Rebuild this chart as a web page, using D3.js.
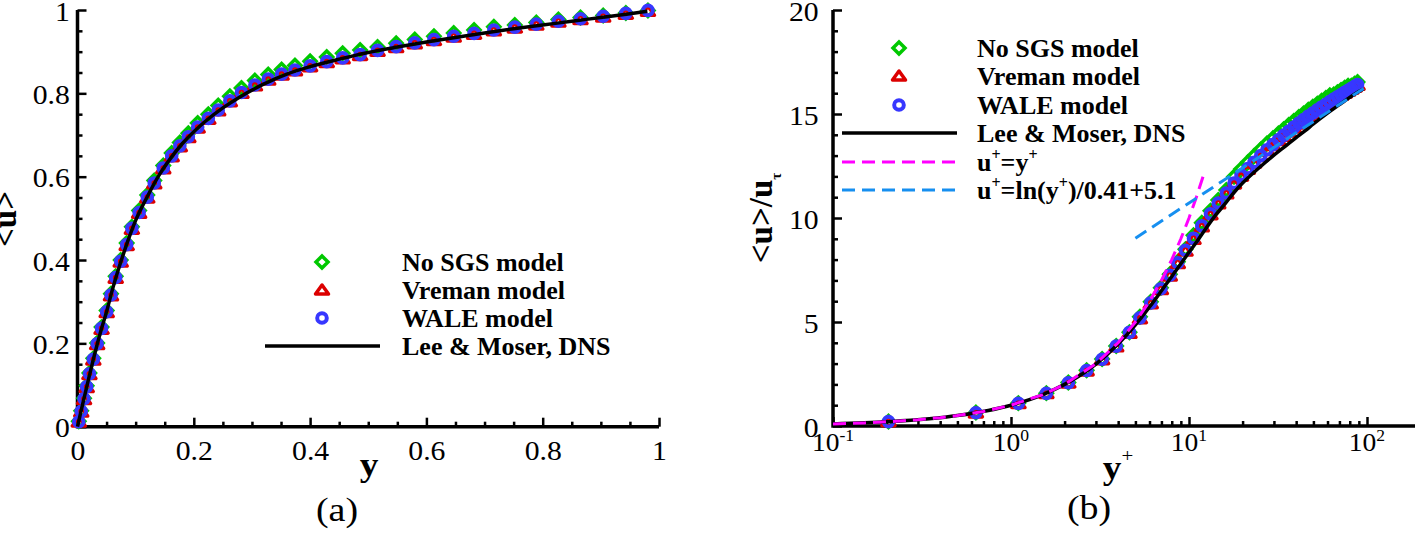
<!DOCTYPE html>
<html><head><meta charset="utf-8">
<script src="https://cdn.jsdelivr.net/npm/d3@7"></script>
<style>
body{margin:0;background:#fff}
svg{display:block}
text{font-family:"Liberation Serif","Times New Roman",Times,serif;fill:#000}
</style>
</head><body>
<svg id="c" width="1415" height="535"></svg>
<script>
// ---------------- DATA ----------------
// Panel (a): y/h vs <u>/Uc
const gridY = [0.0022,0.0064,0.0112,0.0158,0.0205,0.0272,0.0338,0.0414,0.0502,0.0576,0.0657,0.0743,0.0846,0.0935,0.106,0.120,0.132,0.1475,0.162,0.176,0.1906,0.2067,0.225,0.242,0.262,0.282,0.305,0.328,0.351,0.374,0.400,0.4286,0.456,0.486,0.516,0.548,0.580,0.613,0.647,0.682,0.716,0.752,0.789,0.827,0.865,0.904,0.943,0.981];
const noSgsU = [0.013,0.038,0.068,0.098,0.129,0.164,0.201,0.239,0.279,0.319,0.361,0.400,0.441,0.480,0.519,0.556,0.591,0.627,0.657,0.682,0.704,0.729,0.750,0.771,0.793,0.813,0.831,0.845,0.857,0.867,0.877,0.887,0.896,0.904,0.911,0.920,0.929,0.937,0.945,0.952,0.960,0.964,0.970,0.977,0.982,0.987,0.993,0.999];
const vremanU = [0.011,0.035,0.065,0.094,0.125,0.160,0.197,0.234,0.274,0.314,0.356,0.395,0.435,0.474,0.512,0.549,0.583,0.619,0.648,0.672,0.694,0.717,0.738,0.758,0.780,0.800,0.818,0.832,0.844,0.854,0.864,0.874,0.883,0.891,0.901,0.910,0.919,0.927,0.935,0.942,0.950,0.957,0.964,0.971,0.977,0.983,0.990,0.997];
const waleU = [0.012,0.037,0.067,0.096,0.127,0.162,0.199,0.236,0.276,0.316,0.358,0.397,0.437,0.476,0.514,0.551,0.585,0.621,0.650,0.674,0.696,0.719,0.740,0.760,0.782,0.802,0.820,0.834,0.846,0.856,0.866,0.876,0.885,0.893,0.903,0.912,0.921,0.929,0.937,0.944,0.952,0.959,0.966,0.973,0.979,0.985,0.992,0.999];
const dnsY = [0,0.005,0.01,0.02,0.03,0.04,0.05,0.06,0.07,0.08,0.09,0.10,0.12,0.14,0.16,0.18,0.20,0.22,0.25,0.28,0.32,0.36,0.40,0.45,0.50,0.55,0.60,0.65,0.70,0.75,0.80,0.85,0.90,0.95,0.98];
const dnsU = [0,0.031,0.061,0.12,0.177,0.229,0.276,0.329,0.376,0.419,0.459,0.495,0.552,0.603,0.644,0.679,0.708,0.733,0.765,0.792,0.822,0.846,0.864,0.882,0.898,0.911,0.923,0.934,0.945,0.955,0.964,0.973,0.982,0.991,0.997];

// Panel (b): y+ vs <u>/u_tau
const yPlus = [0.205,0.635,1.10,1.58,2.10,2.66,3.25,3.90,4.63,5.30,6.10,6.95,7.80,8.65,9.55,10.6,11.8,13.2,14.6,16.2,17.9,19.6,21.4,23.2,25.3,27.4,29.6,31.8,34.0,36.3,38.8,41.4,44.0,46.8,49.6,52.6,55.6,58.7,61.8,65.0,68.2,71.5,74.9,78.3,81.7,85.1,88.5];
const noSgsUp = [0.22,0.65,1.10,1.58,2.09,2.68,3.22,3.85,4.51,5.25,5.97,6.65,7.30,7.90,8.50,9.17,9.77,10.35,10.87,11.35,11.98,12.35,12.68,12.98,13.3,13.58,13.83,14.06,14.27,14.47,14.67,14.86,15.03,15.2,15.35,15.5,15.64,15.77,15.9,15.94,16.05,16.16,16.26,16.36,16.36,16.45,16.54];
const vremanUp = [0.21,0.63,1.08,1.56,2.07,2.65,3.19,3.81,4.46,5.16,5.88,6.56,7.21,7.81,8.41,8.98,9.58,10.16,10.68,11.16,11.64,12.01,12.34,12.64,12.96,13.24,13.49,13.72,13.93,14.13,14.33,14.52,14.69,14.86,15.01,15.16,15.3,15.43,15.56,15.68,15.79,15.9,16.0,16.1,16.2,16.29,16.38];
const waleUp = [0.21,0.64,1.09,1.57,2.08,2.67,3.21,3.84,4.50,5.20,5.92,6.60,7.25,7.85,8.45,9.02,9.62,10.2,10.72,11.2,11.68,12.05,12.38,12.68,13.0,13.28,13.53,13.76,13.97,14.17,14.37,14.56,14.73,14.9,15.05,15.2,15.34,15.47,15.6,15.72,15.83,15.94,16.04,16.14,16.24,16.33,16.42];
const dnsYp = [0.1,0.2,0.5,1,1.5,2,2.5,3,4,5,6,7,8,9,10,11,12,14,16,18,20,23,26,30,35,40,45,50,60,70,80,90,95];
const dnsUp = [0.1,0.2,0.5,1.0,1.5,2.0,2.49,2.98,3.94,4.86,5.72,6.5,7.19,7.8,8.35,8.83,9.3,10.1,10.7,11.25,11.68,12.17,12.57,13.02,13.47,13.86,14.2,14.52,15.04,15.45,15.8,16.08,16.2];
const viscY = [0.1,0.15,0.2,0.3,0.4,0.5,0.7,1,1.5,2,3,4,5,6,7,8,9,10,11,12];
const viscU = [0.1,0.15,0.2,0.3,0.4,0.5,0.7,1,1.5,2,3,4,5,6,7,8,9,10,11,12];
const logLawY = [5,100];
const logLawU = [9.03,16.33];

// ticks
const xTicksA = [0,0.2,0.4,0.6,0.8,1];
const xTickLabelsA = ["0","0.2","0.4","0.6","0.8","1"];
const yTicksA = [0,0.2,0.4,0.6,0.8,1];
const yTickLabelsA = ["0","0.2","0.4","0.6","0.8","1"];
const yTicksB = [0,5,10,15,20];
const yTickLabelsB = ["0","5","10","15","20"];
const xTicksB = [0.1,1,10,100];
const xTickExpB = ["-1","0","1","2"];

const seriesNames = ["No SGS model","Vreman model","WALE model","Lee & Moser, DNS"];

// ---------------- STYLE ----------------
const GREEN="#00c800", RED="#dc0000", BLUE="#3737ff", MAGENTA="#ff00ff", LBLUE="#168ff0";
const svg = d3.select("#c");

const xa = d3.scaleLinear().domain([0,1]).range([77.5,659]);
const ya = d3.scaleLinear().domain([0,1]).range([426.7,10]);
const xb = d3.scaleLog().domain([0.1,100]).range([833,1367]);
const yb = d3.scaleLinear().domain([0,20]).range([426,10]);

const diamondPath = "M0,-6L6,0L0,6L-6,0Z";
const trianglePath = "M0,-5L6.5,4L-6.5,4Z";

function markers(g, xs, ys, sx, sy, kind){
  const data = xs.map((x,i)=>[x,ys[i]]);
  if(kind==="circle"){
    g.selectAll(null).data(data).join("circle")
      .attr("cx",d=>sx(d[0])).attr("cy",d=>sy(d[1])).attr("r",4.8)
      .attr("fill","none").attr("stroke",BLUE).attr("stroke-width",4);
  } else {
    g.selectAll(null).data(data).join("path")
      .attr("transform",d=>`translate(${sx(d[0])},${sy(d[1])})`)
      .attr("d", kind==="diamond"?diamondPath:trianglePath)
      .attr("fill","none").attr("stroke",kind==="diamond"?GREEN:RED)
      .attr("stroke-width",3.5).attr("stroke-linejoin",kind==="diamond"?"miter":"round");
  }
}
function legendMarker(g,x,y,kind){
  if(kind==="circle") g.append("circle").attr("cx",x).attr("cy",y).attr("r",4.8).attr("fill","none").attr("stroke",BLUE).attr("stroke-width",4);
  else g.append("path").attr("transform",`translate(${x},${y})`).attr("d",kind==="diamond"?diamondPath:trianglePath)
        .attr("fill","none").attr("stroke",kind==="diamond"?GREEN:RED).attr("stroke-width",3.5).attr("stroke-linejoin",kind==="diamond"?"miter":"round");
}
function styleTicks(g, w){ g.select(".domain").remove(); g.selectAll("line").attr("stroke","#000").attr("stroke-width",w); }

// ---------------- PANEL A ----------------
const A = svg.append("g");
const xMinorA = d3.range(0,1.0001,0.05).filter(v=>Math.abs(v*5-Math.round(v*5))>1e-6);
const yMinorA = xMinorA;
A.append("g").attr("transform",`translate(0,${ya(0)})`)
  .call(d3.axisBottom(xa).tickValues(xMinorA).tickSizeInner(-5).tickSizeOuter(0).tickFormat(""))
  .call(g=>styleTicks(g,2.5));
A.append("g").attr("transform",`translate(0,${ya(0)})`)
  .call(d3.axisBottom(xa).tickValues(xTicksA).tickSizeInner(-9).tickSizeOuter(0).tickPadding(14).tickFormat((d,i)=>xTickLabelsA[i]))
  .call(g=>styleTicks(g,2.5))
  .call(g=>g.selectAll("text").attr("font-size",27).attr("transform","scale(1.1,1)").attr("dy","0.71em"));
A.append("g").attr("transform",`translate(${xa(0)},0)`)
  .call(d3.axisLeft(ya).tickValues(yMinorA).tickSizeInner(-5).tickSizeOuter(0).tickFormat(""))
  .call(g=>styleTicks(g,2.5));
A.append("g").attr("transform",`translate(${xa(0)},0)`)
  .call(d3.axisLeft(ya).tickValues(yTicksA).tickSizeInner(-9).tickSizeOuter(0).tickPadding(7).tickFormat((d,i)=>yTickLabelsA[i]))
  .call(g=>styleTicks(g,2.5))
  .call(g=>g.selectAll("text").attr("font-size",27).attr("transform","scale(1.1,1)").attr("dy","0.38em"));
A.append("path").attr("d",`M${xa(0)},${ya(1)}V${ya(0)}H${xa(1)}`).attr("fill","none").attr("stroke","#000").attr("stroke-width",3.5);

const mA = A.append("g");
markers(mA, gridY, noSgsU, xa, ya, "diamond");
markers(mA, gridY, vremanU, xa, ya, "triangle");
markers(mA, gridY, waleU, xa, ya, "circle");
A.append("path").datum(dnsY.map((y,i)=>[y,dnsU[i]]))
  .attr("d", d3.line().x(d=>xa(d[0])).y(d=>ya(d[1])).curve(d3.curveMonotoneX))
  .attr("fill","none").attr("stroke","#000").attr("stroke-width",3.5);

A.append("text").attr("transform","translate(16,219) rotate(-90)").attr("text-anchor","middle")
  .attr("font-size",33).attr("font-weight","bold").text("<u>");
A.append("text").attr("transform","translate(369,476) scale(1.1,1)").attr("text-anchor","middle")
  .attr("font-size",34).attr("font-weight","bold").text("y");
A.append("text").attr("transform","translate(337,521) scale(1.15,1)").attr("text-anchor","middle")
  .attr("font-size",33).text("(a)");

// legend A
const LA = A.append("g");
const kinds = ["diamond","triangle","circle"];
[262,290,318].forEach((yy,i)=>legendMarker(LA,322,yy,kinds[i]));
LA.append("line").attr("x1",265).attr("x2",380).attr("y1",346).attr("y2",346).attr("stroke","#000").attr("stroke-width",3.5);
[262,290,318,346].forEach((yy,i)=>LA.append("text").attr("x",402).attr("y",yy+9).attr("font-size",26).attr("font-weight","bold").text(seriesNames[i]));

// ---------------- PANEL B ----------------
const B = svg.append("g");
const xMinorB = [];
[0.1,1,10,100].forEach(p=>{for(let k=2;k<=9;k++){const v=p*k; if(xb(v)<1414) xMinorB.push(v);}});
const yMinorB = d3.range(0,21,1).filter(v=>v%5!==0);
B.append("g").attr("transform",`translate(0,${yb(0)})`)
  .call(d3.axisBottom(xb).tickValues(xMinorB).tickSizeInner(-5).tickSizeOuter(0).tickFormat(""))
  .call(g=>styleTicks(g,2.5));
B.append("g").attr("transform",`translate(0,${yb(0)})`)
  .call(d3.axisBottom(xb).tickValues(xTicksB).tickSizeInner(-9).tickSizeOuter(0).tickFormat(""))
  .call(g=>styleTicks(g,2.5));
B.append("g").attr("transform",`translate(${xb(0.1)},0)`)
  .call(d3.axisLeft(yb).tickValues(yMinorB).tickSizeInner(-5).tickSizeOuter(0).tickFormat(""))
  .call(g=>styleTicks(g,2.5));
B.append("g").attr("transform",`translate(${xb(0.1)},0)`)
  .call(d3.axisLeft(yb).tickValues(yTicksB).tickSizeInner(-9).tickSizeOuter(0).tickPadding(13).tickFormat((d,i)=>yTickLabelsB[i]))
  .call(g=>styleTicks(g,2.5))
  .call(g=>g.selectAll("text").attr("font-size",27).attr("transform","scale(1.1,1)").attr("dy","0.38em"));
B.append("path").attr("d",`M${xb(0.1)},${yb(20)}V${yb(0)}H1415`).attr("fill","none").attr("stroke","#000").attr("stroke-width",3.5);
// log tick labels 10^n
xTicksB.forEach((v,i)=>{
  const t = B.append("text").attr("transform",`translate(${xb(v)},451) scale(1.1,1)`).attr("text-anchor","middle").attr("font-size",25);
  t.append("tspan").text("10");
  t.append("tspan").attr("dy",-10).attr("font-size",16).text(xTickExpB[i]);
});

const mB = B.append("g");
markers(mB, yPlus, noSgsUp, xb, yb, "diamond");
markers(mB, yPlus, vremanUp, xb, yb, "triangle");
markers(mB, yPlus, waleUp, xb, yb, "circle");
const lineB = d3.line().x(d=>xb(d[0])).y(d=>yb(d[1]));
B.append("path").datum(dnsYp.map((y,i)=>[y,dnsUp[i]])).attr("d",lineB.curve(d3.curveMonotoneX))
  .attr("fill","none").attr("stroke","#000").attr("stroke-width",3.5);
B.append("path").datum(viscY.map((y,i)=>[y,viscU[i]])).attr("d",d3.line().x(d=>xb(d[0])).y(d=>yb(d[1])))
  .attr("fill","none").attr("stroke",MAGENTA).attr("stroke-width",3).attr("stroke-dasharray","13,7");
B.append("path").datum(logLawY.map((y,i)=>[y,logLawU[i]])).attr("d",d3.line().x(d=>xb(d[0])).y(d=>yb(d[1])))
  .attr("fill","none").attr("stroke",LBLUE).attr("stroke-width",3).attr("stroke-dasharray","13,7");

// titles B
const tB = B.append("text").attr("transform","translate(772,218) rotate(-90)").attr("text-anchor","middle")
  .attr("font-size",33).attr("font-weight","bold");
tB.append("tspan").text("<u>/u");
tB.append("tspan").attr("dy",9).attr("font-size",15).text("τ");
const yl = B.append("text").attr("transform","translate(1118,479) scale(1.1,1)").attr("text-anchor","middle").attr("font-size",34).attr("font-weight","bold");
yl.append("tspan").text("y");
yl.append("tspan").attr("dy",-17).attr("font-size",19).attr("font-weight","normal").text("+");
B.append("text").attr("transform","translate(1089,519) scale(1.15,1)").attr("text-anchor","middle").attr("font-size",33).text("(b)");

// legend B
const LB = B.append("g");
[48,76,105].forEach((yy,i)=>legendMarker(LB,899,yy,kinds[i]));
LB.append("line").attr("x1",842).attr("x2",957).attr("y1",133).attr("y2",133).attr("stroke","#000").attr("stroke-width",3.5);
LB.append("line").attr("x1",842).attr("x2",957).attr("y1",162).attr("y2",162).attr("stroke",MAGENTA).attr("stroke-width",3).attr("stroke-dasharray","13,7");
LB.append("line").attr("x1",842).attr("x2",957).attr("y1",190).attr("y2",190).attr("stroke",LBLUE).attr("stroke-width",3).attr("stroke-dasharray","13,7");
[48,76,105,133].forEach((yy,i)=>LB.append("text").attr("x",977).attr("y",yy+9).attr("font-size",26).attr("font-weight","bold").text(seriesNames[i]));
function supText(y, parts){
  const t = LB.append("text").attr("x",977).attr("y",y).attr("font-size",26).attr("font-weight","bold");
  let up=false;
  parts.forEach(p=>{
    if(p[1]){ t.append("tspan").attr("dy",-11).attr("font-size",16).text(p[0]); up=true; }
    else { const s=t.append("tspan").text(p[0]); if(up){s.attr("dy",11); up=false;} }
  });
}
supText(171, [["u"],["+",1],["=y"],["+",1]]);
supText(199, [["u"],["+",1],["=ln(y"],["+",1],[")/0.41+5.1"]]);
</script>
</body></html>
